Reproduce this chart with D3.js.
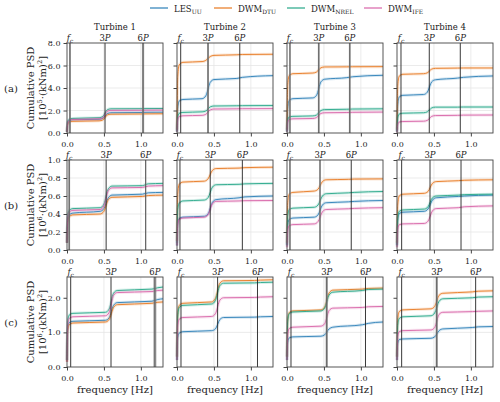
<!DOCTYPE html>
<html>
<head>
<meta charset="utf-8">
<script src="https://cdn.jsdelivr.net/npm/d3@7"></script>
<style>
  body { margin: 0; background: #fff; }
  svg text { font-family: "DejaVu Serif", serif; }
</style>
</head>
<body>
<div class="container"></div>
<script>
// Frame
const width = 500;
const height = 402;
const colLeft = [67, 177, 287, 397];
const rowTop = [43, 160, 277];
const panelW = 96;
const panelH = 90;

const turbines = ['Turbine 1', 'Turbine 2', 'Turbine 3', 'Turbine 4'];
const rowLabels = ['(a)', '(b)', '(c)'];
const rowExp = ['5', '6', '6'];
const yMax = [8, 1, 2.6];
const yTicks = [[0, 2, 4, 6, 8], [0, 0.2, 0.4, 0.6, 0.8, 1.0], [0, 1, 2]];
const xTicks = [0, 0.5, 1.0];

const seriesNames = ['LES', 'DWM', 'DWM', 'DWM'];
const seriesSubs = ['UU', 'DTU', 'NREL', 'IFE'];
const colors = ['#2a7fb8', '#e8781f', '#25a788', '#d864a8'];

// fc, 3P, 6P frequencies per turbine
const markersA = [[0.04, 0.515, 1.03], [0.05, 0.42, 0.85], [0.04, 0.43, 0.85], [0.054, 0.437, 0.857]];
const markersB = [[0.03, 0.53, 1.065], [0.04, 0.45, 0.885], [0.04, 0.447, 0.87], [0.063, 0.447, 0.867]];
const markersC = [[0.05, 0.596, 1.19], [0.054, 0.55, 1.09], [0.054, 0.538, 1.063], [0.063, 0.538, 1.065]];
// half-width of grey band round each marker (Hz)
const bandsA = [[0.012, 0, 0.015], [0, 0.012, 0], [0.01, 0.012, 0.012], [0, 0, 0]];
const bandsB = [[0.012, 0, 0.008], [0, 0, 0], [0.01, 0.01, 0], [0, 0, 0]];
const bandsC = [[0, 0, 0.02], [0, 0, 0], [0, 0.015, 0], [0, 0.015, 0]];

// frequency knots per turbine
const knotsA = [
  [0, 0.01, 0.03, 0.08, 0.435, 0.485, 0.545, 0.595, 0.99, 1.07, 1.3],
  [0, 0.01, 0.03, 0.08, 0.34, 0.39, 0.45, 0.50, 0.81, 0.89, 1.3],
  [0, 0.01, 0.03, 0.08, 0.35, 0.40, 0.46, 0.51, 0.81, 0.89, 1.3],
  [0, 0.01, 0.03, 0.08, 0.36, 0.41, 0.47, 0.52, 0.82, 0.90, 1.3],
];
const knotsB = [
  [0, 0.01, 0.03, 0.08, 0.45, 0.50, 0.56, 0.61, 1.02, 1.10, 1.3],
  [0, 0.01, 0.03, 0.08, 0.37, 0.42, 0.48, 0.53, 0.84, 0.92, 1.3],
  [0, 0.01, 0.03, 0.08, 0.37, 0.42, 0.48, 0.53, 0.83, 0.91, 1.3],
  [0, 0.01, 0.03, 0.08, 0.37, 0.42, 0.48, 0.53, 0.83, 0.91, 1.3],
];
const knotsC = [
  [0, 0.01, 0.03, 0.08, 0.52, 0.57, 0.63, 0.68, 1.15, 1.23, 1.3],
  [0, 0.01, 0.03, 0.08, 0.47, 0.52, 0.58, 0.63, 1.05, 1.13, 1.3],
  [0, 0.01, 0.03, 0.08, 0.46, 0.51, 0.57, 0.62, 1.02, 1.10, 1.3],
  [0, 0.01, 0.03, 0.08, 0.46, 0.51, 0.57, 0.62, 1.02, 1.10, 1.3],
];

// Row (a), 10^5 (kNm)^2
const lesA = [
  [0.1, 0.85, 1.1, 1.18, 1.22, 1.3, 1.72, 1.8, 1.82, 1.84, 1.85],
  [0.2, 2.2, 2.85, 2.98, 3.05, 3.3, 4.5, 4.75, 4.85, 4.95, 5.1],
  [0.2, 2.2, 2.9, 3.05, 3.12, 3.35, 4.55, 4.78, 4.92, 5.0, 5.13],
  [0.2, 2.5, 3.2, 3.35, 3.42, 3.62, 4.55, 4.73, 4.88, 4.95, 5.07],
];
const dtuA = [
  [0.1, 0.75, 0.98, 1.04, 1.08, 1.16, 1.6, 1.67, 1.69, 1.7, 1.71],
  [0.3, 5.0, 6.05, 6.28, 6.35, 6.45, 6.8, 6.9, 6.95, 6.98, 7.0],
  [0.3, 4.3, 5.1, 5.27, 5.33, 5.42, 5.8, 5.87, 5.88, 5.89, 5.9],
  [0.3, 4.2, 5.05, 5.22, 5.27, 5.35, 5.68, 5.75, 5.77, 5.78, 5.78],
];
const nrelA = [
  [0.1, 0.95, 1.22, 1.3, 1.36, 1.47, 2.06, 2.15, 2.16, 2.17, 2.18],
  [0.1, 1.4, 1.75, 1.83, 1.88, 1.96, 2.32, 2.4, 2.42, 2.43, 2.44],
  [0.1, 1.15, 1.42, 1.48, 1.52, 1.6, 2.0, 2.08, 2.11, 2.13, 2.15],
  [0.1, 1.35, 1.68, 1.76, 1.8, 1.88, 2.23, 2.3, 2.3, 2.31, 2.31],
];
const ifeA = [
  [0.1, 0.85, 1.12, 1.2, 1.26, 1.36, 1.93, 2.01, 2.02, 2.03, 2.04],
  [0.1, 1.15, 1.45, 1.53, 1.57, 1.66, 2.05, 2.13, 2.15, 2.16, 2.17],
  [0.1, 0.95, 1.2, 1.26, 1.29, 1.37, 1.74, 1.8, 1.82, 1.84, 1.86],
  [0.05, 0.75, 0.97, 1.02, 1.05, 1.12, 1.48, 1.55, 1.57, 1.59, 1.6],
];

// Row (b), 10^6 (kNm)^2
const lesB = [
  [0.08, 0.33, 0.39, 0.41, 0.43, 0.46, 0.58, 0.61, 0.62, 0.635, 0.64],
  [0.05, 0.28, 0.35, 0.365, 0.375, 0.4, 0.53, 0.56, 0.58, 0.59, 0.6],
  [0.05, 0.28, 0.34, 0.355, 0.365, 0.39, 0.5, 0.525, 0.535, 0.54, 0.55],
  [0.05, 0.33, 0.405, 0.42, 0.43, 0.455, 0.555, 0.58, 0.595, 0.6, 0.61],
];
const dtuB = [
  [0.08, 0.31, 0.37, 0.39, 0.4, 0.43, 0.56, 0.585, 0.595, 0.605, 0.61],
  [0.1, 0.62, 0.73, 0.755, 0.765, 0.79, 0.885, 0.905, 0.91, 0.915, 0.92],
  [0.08, 0.53, 0.62, 0.64, 0.655, 0.675, 0.76, 0.78, 0.785, 0.788, 0.79],
  [0.08, 0.5, 0.6, 0.62, 0.63, 0.65, 0.74, 0.76, 0.77, 0.775, 0.78],
];
const nrelB = [
  [0.08, 0.37, 0.44, 0.46, 0.47, 0.51, 0.68, 0.71, 0.715, 0.735, 0.74],
  [0.08, 0.45, 0.52, 0.545, 0.555, 0.58, 0.7, 0.725, 0.73, 0.735, 0.74],
  [0.06, 0.38, 0.45, 0.465, 0.475, 0.5, 0.6, 0.625, 0.635, 0.64, 0.65],
  [0.06, 0.36, 0.43, 0.445, 0.455, 0.48, 0.58, 0.6, 0.61, 0.615, 0.62],
];
const ifeB = [
  [0.08, 0.35, 0.42, 0.44, 0.45, 0.49, 0.66, 0.69, 0.695, 0.71, 0.715],
  [0.05, 0.28, 0.34, 0.355, 0.365, 0.39, 0.515, 0.54, 0.545, 0.548, 0.55],
  [0.03, 0.22, 0.27, 0.282, 0.29, 0.315, 0.425, 0.45, 0.458, 0.462, 0.47],
  [0.03, 0.23, 0.28, 0.29, 0.295, 0.32, 0.435, 0.46, 0.47, 0.48, 0.49],
];

// Row (c), 10^6 (kNm)^2
const lesC = [
  [0.2, 1.1, 1.28, 1.32, 1.35, 1.42, 1.78, 1.86, 1.9, 1.95, 1.97],
  [0.2, 0.85, 0.98, 1.02, 1.05, 1.1, 1.37, 1.43, 1.44, 1.45, 1.46],
  [0.2, 0.72, 0.84, 0.87, 0.89, 0.93, 1.1, 1.15, 1.22, 1.26, 1.3],
  [0.2, 0.68, 0.79, 0.81, 0.83, 0.87, 1.05, 1.1, 1.14, 1.16, 1.17],
];
const dtuC = [
  [0.15, 1.05, 1.22, 1.27, 1.3, 1.37, 1.72, 1.8, 1.84, 1.87, 1.88],
  [0.3, 1.5, 1.78, 1.84, 1.88, 1.98, 2.42, 2.49, 2.5, 2.51, 2.52],
  [0.3, 1.35, 1.57, 1.62, 1.65, 1.73, 2.14, 2.22, 2.25, 2.27, 2.28],
  [0.3, 1.38, 1.6, 1.65, 1.68, 1.75, 2.07, 2.13, 2.17, 2.19, 2.2],
];
const nrelC = [
  [0.2, 1.3, 1.5, 1.55, 1.58, 1.67, 2.13, 2.21, 2.25, 2.29, 2.31],
  [0.3, 1.45, 1.72, 1.78, 1.82, 1.92, 2.35, 2.42, 2.43, 2.44, 2.45],
  [0.3, 1.32, 1.54, 1.59, 1.62, 1.7, 2.08, 2.16, 2.21, 2.24, 2.25],
  [0.3, 1.2, 1.4, 1.45, 1.48, 1.56, 1.9, 1.97, 2.0, 2.02, 2.03],
];
const ifeC = [
  [0.15, 1.2, 1.4, 1.45, 1.48, 1.57, 2.07, 2.15, 2.18, 2.21, 2.22],
  [0.2, 1.2, 1.38, 1.43, 1.46, 1.54, 1.93, 2.0, 2.01, 2.02, 2.03],
  [0.2, 0.95, 1.11, 1.15, 1.18, 1.25, 1.63, 1.7, 1.72, 1.74, 1.75],
  [0.2, 0.88, 1.02, 1.05, 1.07, 1.14, 1.52, 1.58, 1.6, 1.61, 1.62],
];

const rows = [
  { knots: knotsA, series: [lesA, dtuA, nrelA, ifeA], markers: markersA, bands: bandsA },
  { knots: knotsB, series: [lesB, dtuB, nrelB, ifeB], markers: markersB, bands: bandsB },
  { knots: knotsC, series: [lesC, dtuC, nrelC, ifeC], markers: markersC, bands: bandsC },
];

const svg = d3.select('.container')
  .append('svg')
  .attr('width', width)
  .attr('height', height);

// Legend
const legendX = [150, 214, 287, 364];
const legend = svg.append('g').attr('transform', 'translate(0, 8)');
seriesNames.forEach((name, i) => {
  legend.append('line')
    .attr('x1', legendX[i]).attr('x2', legendX[i] + 18)
    .attr('y1', 0).attr('y2', 0)
    .attr('stroke', colors[i]).attr('stroke-width', 1.2);
  const t = legend.append('text')
    .attr('x', legendX[i] + 24).attr('y', 3.5)
    .attr('font-size', 8.5).attr('fill', '#222');
  t.append('tspan').text(name);
  t.append('tspan').attr('font-size', 6).attr('dy', 2).text(seriesSubs[i]);
});

const x = d3.scaleLinear().domain([0, 1.3]).range([0, panelW]);
const markerLabels = ['fc', '3P', '6P'];

rows.forEach((row, r) => {
  const y = d3.scaleLinear().domain([0, yMax[r]]).range([panelH, 0]);
  const line = d3.line().curve(d3.curveMonotoneX).x(d => x(d[0])).y(d => y(d[1]));

  // row label and y label
  const cy = rowTop[r] + panelH / 2;
  svg.append('text')
    .attr('x', 11).attr('y', cy + 3.5)
    .attr('text-anchor', 'middle').attr('font-size', 10).attr('fill', '#222')
    .text(rowLabels[r]);
  const yl = svg.append('g').attr('transform', `translate(34, ${cy}) rotate(-90)`);
  yl.append('text')
    .attr('text-anchor', 'middle').attr('font-size', 10).attr('fill', '#222')
    .text('Cumulative PSD');
  const yl2 = yl.append('text')
    .attr('y', 12)
    .attr('text-anchor', 'middle').attr('font-size', 10).attr('fill', '#222');
  yl2.append('tspan').text('[10');
  yl2.append('tspan').attr('font-size', 6.5).attr('dy', -4).text(rowExp[r]);
  yl2.append('tspan').attr('dy', 4).text('·(kNm)');
  yl2.append('tspan').attr('font-size', 6.5).attr('dy', -4).text('2');
  yl2.append('tspan').attr('dy', 4).text(']');

  for (let c = 0; c < 4; c++) {
    const g = svg.append('g')
      .attr('transform', `translate(${colLeft[c]}, ${rowTop[r]})`);

    // grid
    g.append('g').selectAll('line')
      .data(yTicks[r].slice(1, -1))
      .join('line')
      .attr('x1', 0).attr('x2', panelW)
      .attr('y1', d => y(d)).attr('y2', d => y(d))
      .attr('stroke', '#e6e6e6').attr('stroke-width', 0.8);
    g.append('g').selectAll('line')
      .data(xTicks.slice(1))
      .join('line')
      .attr('x1', d => x(d)).attr('x2', d => x(d))
      .attr('y1', 0).attr('y2', panelH)
      .attr('stroke', '#e6e6e6').attr('stroke-width', 0.8);

    // curves: faint band under the line
    const knots = row.knots[c];
    row.series.forEach((s, i) => {
      const pts = knots.map((f, k) => [f, s[c][k]]);
      g.append('path')
        .attr('d', line(pts))
        .attr('fill', 'none')
        .attr('stroke', colors[i])
        .attr('stroke-opacity', 0.18)
        .attr('stroke-width', 3);
      g.append('path')
        .attr('d', line(pts))
        .attr('fill', 'none')
        .attr('stroke', colors[i])
        .attr('stroke-width', 0.9);
    });

    // fc / 3P / 6P markers
    row.markers[c].forEach((f, k) => {
      const hw = row.bands[c][k];
      if (hw > 0) {
        g.append('rect')
          .attr('x', x(f - hw)).attr('width', x(2 * hw))
          .attr('y', 0).attr('height', panelH)
          .attr('fill', '#888').attr('opacity', 0.75);
      }
      g.append('line')
        .attr('x1', x(f)).attr('x2', x(f))
        .attr('y1', 0).attr('y2', panelH)
        .attr('stroke', hw > 0 ? '#555' : '#222').attr('stroke-width', 0.9);
      const t = g.append('text')
        .attr('x', x(f)).attr('y', -2)
        .attr('text-anchor', 'middle').attr('font-size', 8.5).attr('fill', '#222');
      if (k === 0) {
        t.append('tspan').attr('font-style', 'italic').text('f');
        t.append('tspan').attr('font-style', 'italic').attr('font-size', 6).attr('dy', 1.5).text('c');
      } else {
        t.append('tspan').text(markerLabels[k][0]);
        t.append('tspan').attr('font-style', 'italic').text('P');
      }
    });

    // frame
    g.append('rect')
      .attr('width', panelW).attr('height', panelH)
      .attr('fill', 'none').attr('stroke', '#444').attr('stroke-width', 0.9);

    // axes
    const xAxis = g.append('g')
      .attr('transform', `translate(0, ${panelH})`)
      .call(d3.axisBottom(x).tickValues(xTicks).tickFormat(d3.format('.1f')).tickSize(3.5));
    xAxis.attr('font-family', null);
    xAxis.select('.domain').remove();
    xAxis.selectAll('text').attr('font-size', 8).attr('fill', '#222').attr('dy', '0.95em');
    xAxis.selectAll('line').attr('stroke', '#444');

    const yAxis = g.append('g')
      .call(d3.axisLeft(y).tickValues(yTicks[r]).tickFormat(d3.format('.1f')).tickSize(3.5));
    yAxis.attr('font-family', null);
    yAxis.select('.domain').remove();
    yAxis.selectAll('line').attr('stroke', '#444');
    yAxis.selectAll('text').attr('font-size', 8).attr('fill', '#222');
    if (c > 0) yAxis.selectAll('text').remove();

    if (r === 0) {
      svg.append('text')
        .attr('x', colLeft[c] + panelW / 2).attr('y', 30)
        .attr('text-anchor', 'middle').attr('font-size', 8.5).attr('fill', '#222')
        .text(turbines[c]);
    }
    if (r === 2) {
      svg.append('text')
        .attr('x', colLeft[c] + panelW / 2).attr('y', 393)
        .attr('text-anchor', 'middle').attr('font-size', 10).attr('fill', '#222')
        .text('frequency [Hz]');
    }
  }
});
</script>
</body>
</html>
